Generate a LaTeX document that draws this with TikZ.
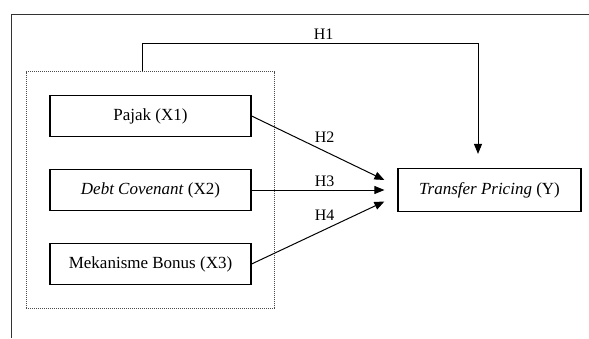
\documentclass[tikz,border=0pt]{standalone}
\usepackage{fontspec}
\setmainfont{Liberation Serif}
\usetikzlibrary{arrows.meta,fit}

\begin{document}
\begin{tikzpicture}[x=1pt, y=1pt, node distance=74pt,
  var/.style = {draw, line width=1.2pt, minimum width=201pt, minimum height=41pt, font=\fontsize{17}{20}\selectfont},
  arr/.style = {line width=1pt, -{Triangle[length=10pt,width=8pt]}},
  hyp/.style = {font=\fontsize{16}{19}\selectfont}]
\useasboundingbox (0,0) rectangle (589,338);
\draw[line width=1pt, black!80] (11,0) -- (11,323) -- (589,323);
\node[var] (x1) at (150.5,222) {Pajak (X1)};
\node[var] (x2) [below of=x1] {\textit{Debt Covenant} (X2)};
\node[var] (x3) [below of=x2] {Mekanisme Bonus (X3)};
\node[var, node distance=339pt, minimum width=183pt, minimum height=43pt] (y) [right of=x2] {\textit{Transfer Pricing} (Y)};
\node[draw, densely dotted, line width=1pt, black!70, inner sep=23pt, fit=(x1) (x3)] (grp) {};
% arrow ends in front of Y
\coordinate (h1) at ([xshift=-11.5pt,yshift=14pt]y.north);
\coordinate (h2) at ([xshift=-13pt,yshift=10pt]y.west);
\coordinate (h3) at ([xshift=-13pt]y.west);
\coordinate (h4) at ([xshift=-13pt,yshift=-11.5pt]y.west);
\draw[arr] ([xshift=-8pt]grp.north) -- ++(0,28) -| node[hyp, pos=0.27, above] {H1} (h1);
\draw[arr] (x1.east) -- node[hyp, pos=0.55, above=5pt] {H2} (h2);
\draw[arr] (x2.east) -- node[hyp, pos=0.55, above] {H3} (h3);
\draw[arr] (x3.east) -- node[hyp, pos=0.55, above=5pt] {H4} (h4);
\end{tikzpicture}
\end{document}
